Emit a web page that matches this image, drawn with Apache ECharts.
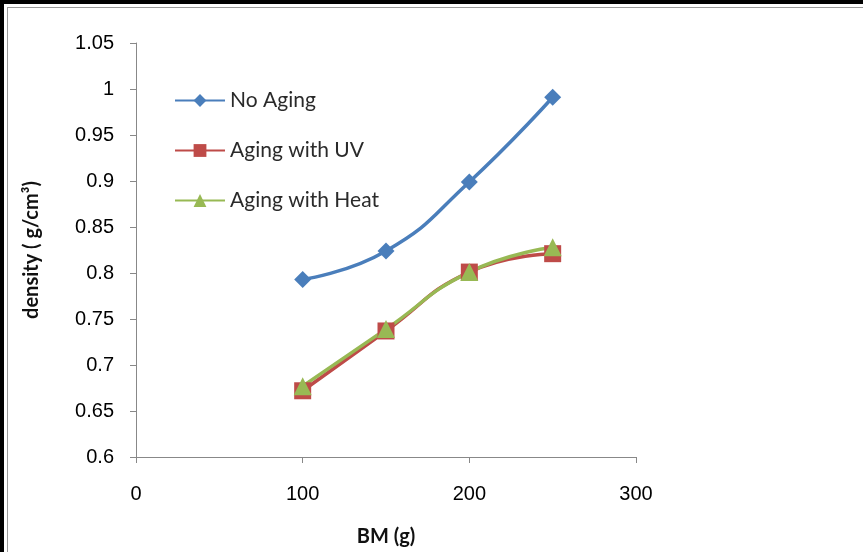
<!DOCTYPE html>
<html>
<head>
<meta charset="utf-8">
<script src="https://cdn.jsdelivr.net/npm/echarts@6/dist/echarts.min.js"></script>
<style>
  html, body { margin: 0; padding: 0; background: #fff; overflow: hidden; }
  #frame { position: absolute; left: 0; top: 0; width: 863px; height: 552px; box-sizing: border-box;
           border-top: 4px solid #000; border-left: 4px solid #000; }
  #inner { position: absolute; left: 7px; top: 7px; right: 0; bottom: 0; border-top: 1px solid #999; border-left: 1px solid #999; }
  #chart { position: absolute; left: 0; top: 0; width: 863px; height: 552px; }
</style>
</head>
<body>
<div id="frame"></div>
<div id="inner"></div>
<div id="chart"></div>
<script>
// BM (g) on the x axis
const bm = [100, 150, 200, 250];
// density (g/cm3) per series
const noAging = [0.793, 0.824, 0.899, 0.991];
const agingUV = [0.672, 0.737, 0.801, 0.821];
const agingHeat = [0.677, 0.739, 0.801, 0.828];
const seriesNames = ['No Aging', 'Aging with UV', 'Aging with Heat'];

const pairs = (ys) => bm.map((x, i) => [x, ys[i]]);

const chart = echarts.init(document.getElementById('chart'), null, { renderer: 'canvas' });

const mk = (name, ys, color, symbol, size) => ({
  name, type: 'line', smooth: true, data: pairs(ys),
  symbol, symbolSize: size,
  lineStyle: { color, width: 3.5 },
  itemStyle: { color },
  z: 2
});

chart.setOption({
  animation: false,
  grid: { left: 136, right: 227, top: 43, bottom: 95, outerBoundsMode: 'none', containLabel: false },
  legend: {
    orient: 'vertical', left: 169, top: 85, itemGap: 29,
    itemWidth: 50, itemHeight: 16,
    textStyle: { fontFamily: 'Lato', fontSize: 21, color: '#2a2a2a' },
    data: seriesNames
  },
  xAxis: {
    type: 'value', min: 0, max: 300, interval: 100,
    name: 'BM (g)', nameLocation: 'middle', nameGap: 70,
    nameTextStyle: { fontFamily: 'Lato', fontWeight: 'bold', fontSize: 20, color: '#111' },
    axisLine: { lineStyle: { color: '#888' } },
    axisTick: { show: true, length: 6, lineStyle: { color: '#888' } },
    axisLabel: { fontFamily: 'Liberation Sans', fontSize: 20, color: '#000', margin: 27 },
    splitLine: { show: false }
  },
  yAxis: {
    type: 'value', min: 0.6, max: 1.05, interval: 0.05,
    name: 'density ( g/cm\u00b3)', nameLocation: 'middle', nameGap: 94,
    nameTextStyle: { fontFamily: 'Lato', fontWeight: 'bold', fontSize: 20, color: '#111' },
    axisLine: { show: true, lineStyle: { color: '#888' } },
    axisTick: { show: true, length: 6, lineStyle: { color: '#888' } },
    axisLabel: { fontFamily: 'Liberation Sans', fontSize: 20, color: '#000', margin: 22,
      formatter: (v) => String(parseFloat(v.toFixed(2))) },
    splitLine: { show: false }
  },
  series: [
    mk(seriesNames[0], noAging, '#4a7ebb', 'diamond', 17),
    mk(seriesNames[1], agingUV, '#be4b48', 'rect', 17),
    mk(seriesNames[2], agingHeat, '#98b954', 'triangle', 18)
  ]
});
</script>
</body>
</html>
